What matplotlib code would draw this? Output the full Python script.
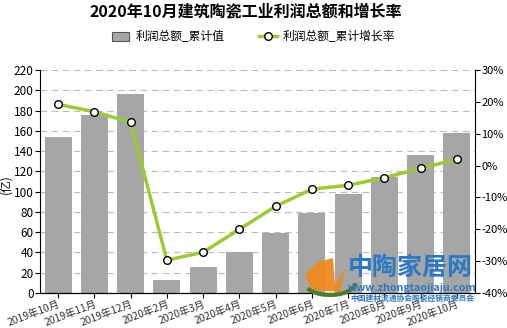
import matplotlib
matplotlib.use("Agg")
import matplotlib.pyplot as plt
from matplotlib.patches import Polygon, Arc, Patch
import numpy as np

plt.rcParams['font.family'] = ['Noto Sans CJK SC', 'DejaVu Sans']

categories = ["2019年10月", "2019年11月", "2019年12月", "2020年2月", "2020年3月", "2020年4月",
              "2020年5月", "2020年6月", "2020年7月", "2020年8月", "2020年9月", "2020年10月"]
profit = [154, 176, 196, 13, 26, 40, 59.5, 79, 97.5, 114, 136, 157.5]
growth = [19.2, 16.9, 13.6, -29.7, -27.2, -20.0, -12.8, -7.4, -6.2, -3.8, -0.9, 2.0]
left_ticks = list(range(0, 221, 20))
right_ticks = list(range(-40, 31, 10))

W, H = 507, 328
fig = plt.figure(figsize=(W / 100, H / 100), dpi=100)
ax = fig.add_axes([40 / W, 35 / H, 435 / W, 223 / H])
x = np.arange(len(categories))
ax.bar(x, profit, width=0.75, color='#A6A6A6', edgecolor='none', zorder=2)
ax.set_ylim(0, 220)
ax.set_xlim(-0.5, len(categories) - 0.5)
ax.set_yticks(left_ticks)
ax.tick_params(axis='y', labelsize=8.5, length=3.5, direction='out', pad=1)
ax.tick_params(axis='x', length=3.5, direction='out', pad=0.5)
ax.set_xticks(x)
ax.set_xticklabels(categories, rotation=21, fontsize=7.4, ha='right', rotation_mode='anchor', color='#333333')
ax.yaxis.grid(True, linestyle=(0, (6, 4)), color='#BBBBBB', linewidth=0.8, zorder=0)
ax.set_axisbelow(True)
ax.set_ylabel('(亿)', fontsize=8.5)
ax.yaxis.set_label_coords(-28 / 435, 0.49)
ax.spines['top'].set_visible(False)
ax.spines['right'].set_visible(False)

ax2 = ax.twinx()
line, = ax2.plot(x, growth, color='#99CC33', linewidth=2.5, marker='o', markersize=5.5,
                 markerfacecolor='white', markeredgecolor='black', markeredgewidth=1.0, zorder=3)
ax2.set_ylim(-40, 30)
ax2.set_yticks(right_ticks)
ax2.set_yticklabels([f'{t}%' for t in right_ticks])
ax2.tick_params(axis='y', labelsize=8, length=3.5, direction='out', pad=1)
ax2.spines['top'].set_visible(False)
ax2.spines['left'].set_visible(False)

fig.text(0.485, 1 - 12 / H, '2020年10月建筑陶瓷工业利润总额和增长率', ha='center', va='center',
         fontsize=11.5, fontweight='bold')

bar_proxy = Patch(facecolor='#A6A6A6', edgecolor='#555555', linewidth=0.8)
fig.legend([bar_proxy, line], ['利润总额_累计值', '利润总额_累计增长率'], loc='center',
           bbox_to_anchor=(0.5, 1 - 37 / H), ncol=2, frameon=False,
           fontsize=8.5, handlelength=1.5, columnspacing=3, handletextpad=0.5)

# watermark
fig.patches.append(Polygon([[318 / W, 1 - 262 / H], [333 / W, 1 - 258 / H], [335 / W, 1 - 285 / H],
                            [345 / W, 1 - 268 / H], [340 / W, 1 - 292 / H], [312 / W, 1 - 290 / H],
                            [305 / W, 1 - 275 / H]],
                           closed=True, transform=fig.transFigure, facecolor='#F08A1C',
                           edgecolor='none', alpha=0.95, zorder=5))
fig.patches.append(Arc((330 / W, 1 - 283 / H), 50 / W, 24 / H, theta1=200, theta2=360,
                       transform=fig.transFigure, color='#4E7D2E', linewidth=3, zorder=5))
fig.text(410 / W, 1 - 268 / H, '中陶家居网', ha='center', va='center', fontsize=18, fontweight='bold',
         color='#2A78C6', zorder=6)
fig.text(412 / W, 1 - 288 / H, 'www.zhongtaojiaju.com', ha='center', va='center', fontsize=7.6,
         fontweight='bold', fontstyle='italic', color='#2A78C6', zorder=6)
fig.text(412 / W, 1 - 298 / H, '中国建材流通协会陶瓷经销商委员会', ha='center', va='center', fontsize=5.6,
         fontweight='bold', color='#2A78C6', zorder=6)

fig.savefig('out.png', dpi=100)
